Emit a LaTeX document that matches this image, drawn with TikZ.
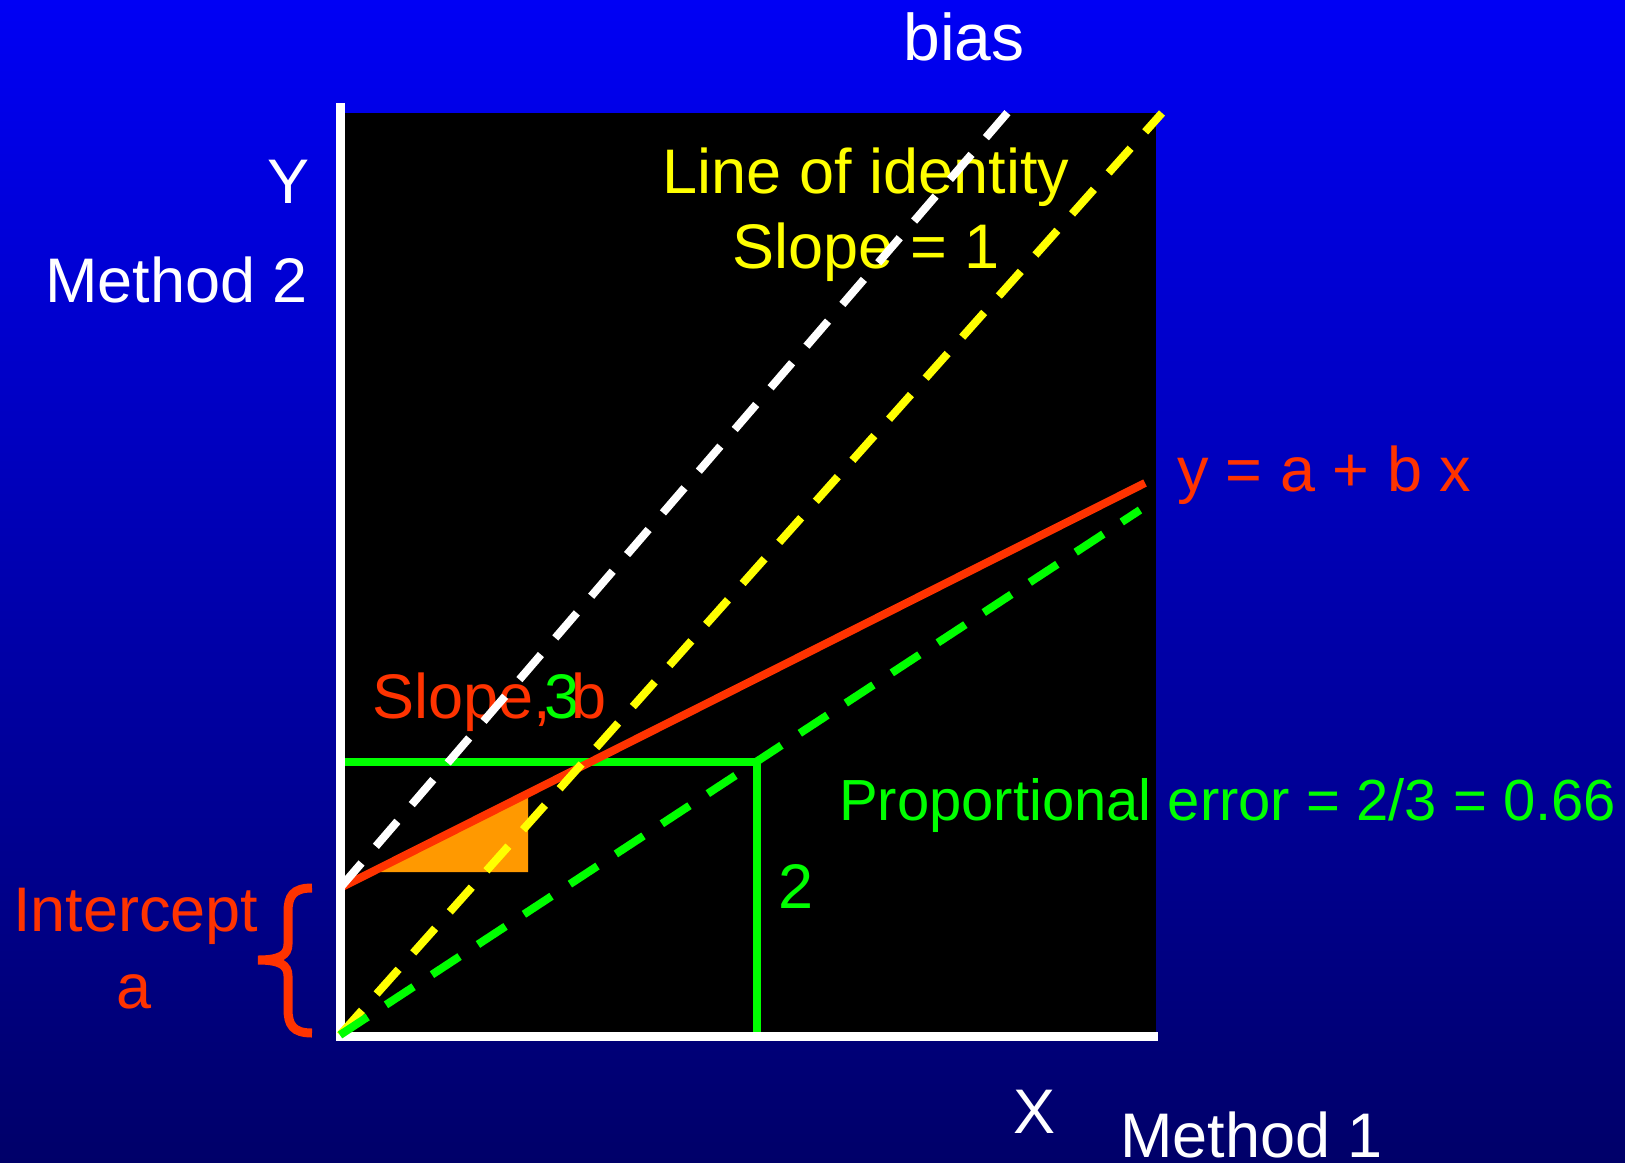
\documentclass[tikz,border=0pt]{standalone}
\usepackage{fontspec}
\setmainfont{Liberation Sans}
\newcommand\myfs[1]{\fontsize{#1}{#1}\selectfont}
\definecolor{bgtop}{RGB}{0,0,245}
\definecolor{bgbot}{RGB}{0,0,105}
\definecolor{myred}{RGB}{255,51,0}
\definecolor{myyellow}{RGB}{255,255,0}
\definecolor{mygreen}{RGB}{0,255,0}
\definecolor{myorange}{RGB}{255,153,0}
\begin{document}
\begin{tikzpicture}[x=1pt,y=-1pt,
  lbl/.style={inner sep=0pt,outer sep=0pt,font=\myfs{63}},
  dashline/.style={line width=8pt,dash pattern=on 33pt off 22pt},
  solidline/.style={line width=8pt}]
\useasboundingbox (0,0) rectangle (1625,1162);
\shade[top color=bgtop,bottom color=bgbot] (0,0) rectangle (1625,1162);
% plot area
\fill[black] (345,113) rectangle (1156,1032);
% coordinates
\coordinate (O) at (340,1035);
\coordinate (I) at (340,888);
\coordinate (Wtop) at (1008,112);
\coordinate (Ytop) at (1162,113);
\coordinate (Gend) at (1140,510);
\coordinate (Rend) at (1145,483);
\coordinate (Gl) at (341,762);
\coordinate (Gc) at (757,762);
\coordinate (Gb) at (757,1037);
\coordinate (Ta) at (378,872);
\coordinate (Tb) at (528,793);
\coordinate (Tc) at (528,872);
% orange slope triangle
\fill[myorange] (Ta) -- (Tb) -- (Tc) -- cycle;
% green proportional box
\draw[mygreen,solidline,line join=miter] (Gl) -- (Gc) -- (Gb);
% regression line
\draw[myred,solidline] (I) -- (Rend);
% texts
\node[lbl,white,anchor=base] (bias) at (964,60) {\myfs{66}bias};
\node[lbl,white,anchor=base east] (Ylab) at (310,203) {Y};
\node[lbl,white,anchor=base east] (M2) at (308,302) {Method 2};
\node[lbl,white,anchor=base west] (Xlab) at (1013,1133) {X};
\node[lbl,white,anchor=base west] (M1) at (1120,1157) {Method 1};
\node[lbl,myyellow,anchor=base] (LoI) at (866,193) {Line of identity};
\node[lbl,myyellow,anchor=base] (S1) at (866,268) {Slope = 1};
\node[lbl,myred,anchor=base west] (eq) at (1177,491) {y = a + b x};
\node[lbl,myred,anchor=base west] (slb) at (372,718) {Slope,\kern-6pt\textcolor{mygreen}{3}\kern-8pt b};
\node[lbl,mygreen,anchor=base west] (pe) at (839,820) {\myfs{58}Proportional error = 2/3 = 0.66};
\node[lbl,mygreen,anchor=base west] (two) at (778,908) {2};
\node[lbl,myred,anchor=base west] (icpt) at (13,931) {Intercept};
\node[lbl,myred,anchor=base] (alab) at (134,1008) {a};
% brace
\coordinate (Bt) at (312,888);
\coordinate (Bm) at (258,960);
\coordinate (Bb) at (312,1033);
\draw[myred,line width=9pt]
  (Bt) .. controls (293,888) and (288,896) .. (288,912) -- (288,944)
  .. controls (288,955) and (280,960) .. (Bm)
  .. controls (280,960) and (288,965) .. (288,976) -- (288,1009)
  .. controls (288,1025) and (293,1033) .. (Bb);
% axes
\draw[white,line width=9pt] (340.5,103) -- (340.5,1037);
\draw[white,line width=9pt] (336,1036.5) -- (1158,1036.5);
% dashed lines
\draw[white,dashline] (I) -- (Wtop);
\draw[myyellow,dashline] (O) -- (Ytop);
\draw[mygreen,dashline] (O) -- (Gend);
\end{tikzpicture}
\end{document}
